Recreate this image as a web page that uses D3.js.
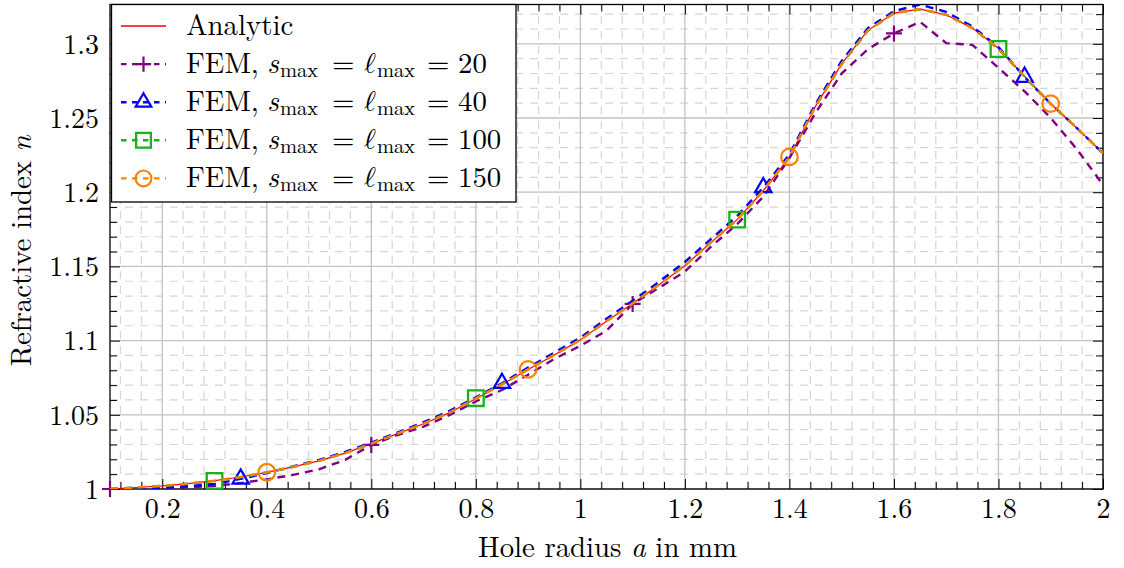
<!DOCTYPE html>
<html>
<head>
<meta charset="utf-8">
<script src="https://cdn.jsdelivr.net/npm/d3@7"></script>
<style>
  html, body { margin: 0; padding: 0; background: #fff; }
</style>
</head>
<body>
<svg id="chart" width="1124" height="568"></svg>
<script>
// Hole radius a (mm)
const radius = [0.10, 0.15, 0.20, 0.25, 0.30, 0.35, 0.40, 0.45, 0.50, 0.55,
                0.60, 0.65, 0.70, 0.75, 0.80, 0.85, 0.90, 0.95, 1.00, 1.05,
                1.10, 1.15, 1.20, 1.25, 1.30, 1.35, 1.40, 1.45, 1.50, 1.55,
                1.60, 1.65, 1.70, 1.75, 1.80, 1.85, 1.90, 1.95, 2.00];

// Refractive index n, analytic solution
const analytic = [1.0000, 1.0010, 1.0021, 1.0036, 1.0056, 1.0081, 1.0112, 1.0149, 1.0190, 1.0242,
                  1.0306, 1.0373, 1.0440, 1.0515, 1.0608, 1.0705, 1.0805, 1.0903, 1.1005, 1.1130,
                  1.1250, 1.1375, 1.1505, 1.1662, 1.1815, 1.2010, 1.2235, 1.2580, 1.2865, 1.3090,
                  1.3207, 1.3234, 1.3196, 1.3106, 1.2970, 1.2780, 1.2596, 1.2432, 1.2263];

// FEM results for increasing s_max = l_max
const fem20 = [1.0000, 1.0002, 1.0007, 1.0012, 1.0021, 1.0040, 1.0065, 1.0095, 1.0133, 1.0196,
               1.0297, 1.0364, 1.0420, 1.0499, 1.0590, 1.0667, 1.0770, 1.0876, 1.0965, 1.1067,
               1.1247, 1.1355, 1.1465, 1.1633, 1.1785, 1.1970, 1.2230, 1.2535, 1.2800, 1.2963,
               1.3070, 1.3148, 1.3005, 1.2993, 1.2838, 1.2680, 1.2500, 1.2290, 1.2050];

const fem40 = [1.0000, 1.0001, 1.0007, 1.0020, 1.0034, 1.0068, 1.0108, 1.0152, 1.0196, 1.0250,
               1.0313, 1.0380, 1.0450, 1.0527, 1.0618, 1.0713, 1.0818, 1.0918, 1.1020, 1.1148,
               1.1268, 1.1395, 1.1530, 1.1685, 1.1840, 1.2032, 1.2255, 1.2595, 1.2885, 1.3105,
               1.3220, 1.3265, 1.3215, 1.3117, 1.2978, 1.2776, 1.2596, 1.2432, 1.2262];

const fem100 = [1.0000, 1.0010, 1.0021, 1.0036, 1.0055, 1.0080, 1.0111, 1.0148, 1.0190, 1.0242,
                1.0306, 1.0373, 1.0441, 1.0516, 1.0612, 1.0706, 1.0806, 1.0904, 1.1006, 1.1131,
                1.1251, 1.1376, 1.1506, 1.1663, 1.1815, 1.2010, 1.2236, 1.2578, 1.2862, 1.3088,
                1.3206, 1.3233, 1.3196, 1.3107, 1.2965, 1.2779, 1.2596, 1.2432, 1.2263];

const fem150 = [1.0000, 1.0010, 1.0021, 1.0036, 1.0056, 1.0081, 1.0113, 1.0149, 1.0190, 1.0242,
                1.0306, 1.0373, 1.0440, 1.0515, 1.0609, 1.0705, 1.0806, 1.0903, 1.1005, 1.1130,
                1.1250, 1.1375, 1.1505, 1.1662, 1.1815, 1.2010, 1.2238, 1.2580, 1.2865, 1.3090,
                1.3207, 1.3234, 1.3196, 1.3106, 1.2970, 1.2780, 1.2597, 1.2432, 1.2263];

// Marker indices (every 10th point, each series with its own phase)
const marks20 = [0, 10, 20, 30];
const marks40 = [5, 15, 25, 35];
const marks100 = [4, 14, 24, 34];
const marks150 = [6, 16, 26, 36];

const xTickValues = [0.2, 0.4, 0.6, 0.8, 1.0, 1.2, 1.4, 1.6, 1.8, 2.0];
const xTickLabels = ["0.2", "0.4", "0.6", "0.8", "1", "1.2", "1.4", "1.6", "1.8", "2"];
const yTickValues = [1.0, 1.05, 1.1, 1.15, 1.2, 1.25, 1.3];
const yTickLabels = ["1", "1.05", "1.1", "1.15", "1.2", "1.25", "1.3"];

const legendNumbers = ["20", "40", "100", "150"];

// ---------------------------------------------------------------
const FONT = "'Latin Modern Roman', 'Liberation Serif', serif";
const MATHFONT = "'Latin Modern Roman', 'Latin Modern Math', 'DejaVu Serif', serif";
const FS = 28.8;      // labels and legend
const TFS = 28;       // tick labels

const svg = d3.select("#chart");
const W = 1124, H = 568;
const margin = { left: 110, right: 21, top: 4.5, bottom: 79 };
const x0 = margin.left, x1 = W - margin.right;
const y0 = H - margin.bottom, y1 = margin.top;

const allValues = [].concat(analytic, fem20, fem40, fem100, fem150);
const x = d3.scaleLinear().domain([0.1, 2.0]).range([x0, x1]);
const y = d3.scaleLinear().domain([1.0, d3.max(allValues)]).range([y0, y1]);

// clip for the curves
svg.append("defs").append("clipPath").attr("id", "plotClip")
  .append("rect").attr("x", x0).attr("y", y1).attr("width", x1 - x0).attr("height", y0 - y1);

// ---- grid ----
const xMinor = d3.range(0.12, 2.0, 0.04).filter(v => Math.abs(v / 0.2 - Math.round(v / 0.2)) > 1e-6);
const yMinor = d3.range(1.01, 1.3265, 0.01).filter(v => Math.abs((v - 1) / 0.05 - Math.round((v - 1) / 0.05)) > 1e-6);

const grid = svg.append("g");
grid.selectAll("line.vmin").data(xMinor).join("line")
  .attr("x1", d => x(d)).attr("x2", d => x(d)).attr("y1", y0).attr("y2", y1)
  .attr("stroke", "#d6d6d6").attr("stroke-width", 1.2).attr("stroke-dasharray", "8,7");
grid.selectAll("line.hmin").data(yMinor).join("line")
  .attr("x1", x0).attr("x2", x1).attr("y1", d => y(d)).attr("y2", d => y(d))
  .attr("stroke", "#d6d6d6").attr("stroke-width", 1.2).attr("stroke-dasharray", "8,7");
grid.selectAll("line.vmaj").data(xTickValues).join("line")
  .attr("x1", d => x(d)).attr("x2", d => x(d)).attr("y1", y0).attr("y2", y1)
  .attr("stroke", "#c2c2c2").attr("stroke-width", 1.3);
grid.selectAll("line.hmaj").data(yTickValues).join("line")
  .attr("x1", x0).attr("x2", x1).attr("y1", d => y(d)).attr("y2", d => y(d))
  .attr("stroke", "#c2c2c2").attr("stroke-width", 1.3);

// ---- axes: ticks point inward on all four sides ----
function styleAxis(g) {
  g.attr("font-family", null).attr("font-size", null);
  g.select(".domain").remove();
  g.selectAll("line").attr("stroke", "#000").attr("stroke-width", 1);
}
const majorLen = 10, minorLen = 7;

const axB = svg.append("g").attr("transform", `translate(0,${y0})`)
  .call(d3.axisBottom(x).tickValues(xTickValues).tickFormat((d, i) => xTickLabels[i]).tickSize(-majorLen))
  .call(styleAxis);
axB.selectAll("text").attr("y", 29).attr("dy", null)
  .style("font-size", TFS + "px").style("font-family", FONT).style("fill", "#000");
svg.append("g").attr("transform", `translate(0,${y0})`)
  .call(d3.axisBottom(x).tickValues(xMinor).tickFormat("").tickSize(-minorLen)).call(styleAxis);
svg.append("g").attr("transform", `translate(0,${y1})`)
  .call(d3.axisTop(x).tickValues(xTickValues).tickFormat("").tickSize(-majorLen)).call(styleAxis);
svg.append("g").attr("transform", `translate(0,${y1})`)
  .call(d3.axisTop(x).tickValues(xMinor).tickFormat("").tickSize(-minorLen)).call(styleAxis);

const axL = svg.append("g").attr("transform", `translate(${x0},0)`)
  .call(d3.axisLeft(y).tickValues(yTickValues).tickFormat((d, i) => yTickLabels[i]).tickSize(-majorLen).tickPadding(11))
  .call(styleAxis);
axL.selectAll("text").attr("dy", "0.33em")
  .style("font-size", TFS + "px").style("font-family", FONT).style("fill", "#000");
svg.append("g").attr("transform", `translate(${x0},0)`)
  .call(d3.axisLeft(y).tickValues(yMinor).tickFormat("").tickSize(-minorLen)).call(styleAxis);
svg.append("g").attr("transform", `translate(${x1},0)`)
  .call(d3.axisRight(y).tickValues(yTickValues).tickFormat("").tickSize(-majorLen)).call(styleAxis);
svg.append("g").attr("transform", `translate(${x1},0)`)
  .call(d3.axisRight(y).tickValues(yMinor).tickFormat("").tickSize(-minorLen)).call(styleAxis);

// frame
svg.append("rect").attr("x", x0).attr("y", y1).attr("width", x1 - x0).attr("height", y0 - y1)
  .attr("fill", "none").attr("stroke", "#000").attr("stroke-width", 1.3);

// ---- series ----
const markerPath = {
  plus: r => `M${-r},0H${r}M0,${-r}V${r}`,
  triangle: r => `M0,${-r}L${0.866 * r},${0.5 * r}L${-0.866 * r},${0.5 * r}Z`,
  square: r => `M${-r},${-r}H${r}V${r}H${-r}Z`,
  circle: r => `M${r},0A${r},${r} 0 1,1 ${-r},0A${r},${r} 0 1,1 ${r},0Z`
};

const series = [
  { name: "analytic", values: analytic, color: "#ff0000", width: 1.2, dash: null, marker: null, marks: [] },
  { name: "fem20", values: fem20, color: "#800080", width: 2.4, dash: "8,6", marker: "plus", size: 8, mw: 2.2, marks: marks20 },
  { name: "fem40", values: fem40, color: "#0000ff", width: 2.4, dash: "8,6", marker: "triangle", size: 9.5, mw: 2.2, marks: marks40 },
  { name: "fem100", values: fem100, color: "#17b217", width: 2.4, dash: "8,6", marker: "square", size: 7.8, mw: 2.3, marks: marks100 },
  { name: "fem150", values: fem150, color: "#ff8000", width: 2.4, dash: "8,6", marker: "circle", size: 8.3, mw: 2.2, marks: marks150 }
];

const line = d3.line().x(d => x(d[0])).y(d => y(d[1]));

series.forEach(s => {
  const pts = radius.map((r, i) => [r, s.values[i]]);
  svg.append("path").datum(pts)
    .attr("clip-path", "url(#plotClip)")
    .attr("d", line)
    .attr("fill", "none")
    .attr("stroke", s.color)
    .attr("stroke-width", s.width)
    .attr("stroke-dasharray", s.dash)
    .attr("stroke-linejoin", "round");
  if (s.marker) {
    svg.append("g").selectAll("path").data(s.marks.map(i => pts[i])).join("path")
      .attr("transform", d => `translate(${x(d[0])},${y(d[1])})`)
      .attr("d", markerPath[s.marker](s.size))
      .attr("fill", "none").attr("stroke", s.color).attr("stroke-width", s.mw);
  }
});

// ---- axis labels ----
const xl = svg.append("text").attr("x", (x0 + x1) / 2 + 1).attr("y", 557).attr("text-anchor", "middle")
  .style("font-size", FS + "px").style("font-family", FONT);
xl.append("tspan").text("Hole radius ");
xl.append("tspan").style("font-style", "italic").text("a");
xl.append("tspan").text(" in mm");

const yl = svg.append("text").attr("transform", `translate(31,${(y0 + y1) / 2 + 4}) rotate(-90)`)
  .attr("text-anchor", "middle").style("font-size", FS + "px").style("font-family", FONT);
yl.append("tspan").text("Refractive index ");
yl.append("tspan").style("font-style", "italic").text("n");

// ---- legend ----
const lg = svg.append("g");
lg.append("rect").attr("x", 111.5).attr("y", y1).attr("width", 404.5).attr("height", 197.5)
  .attr("fill", "#fff").attr("stroke", "#000").attr("stroke-width", 1.3);

const rowY = i => 26 + i * 38.1;
series.forEach((s, i) => {
  const cy = rowY(i);
  lg.append("line").attr("x1", 121).attr("x2", 166).attr("y1", cy).attr("y2", cy)
    .attr("stroke", s.color).attr("stroke-width", s.marker ? 2.4 : 1.5)
    .attr("stroke-dasharray", s.marker ? "5.5,5.5" : null);
  if (s.marker) {
    lg.append("path").attr("transform", `translate(143.5,${cy})`)
      .attr("d", markerPath[s.marker](s.size * 0.95))
      .attr("fill", "none").attr("stroke", s.color).attr("stroke-width", s.mw);
  }
  const t = lg.append("text").attr("y", cy + 9).style("font-size", FS + "px").style("font-family", FONT);
  if (!s.marker) {
    t.append("tspan").attr("x", 186).text("Analytic");
  } else {
    t.append("tspan").attr("x", 186).text("FEM,");
    t.append("tspan").attr("x", 267).style("font-style", "italic").text("s");
    t.append("tspan").attr("x", 280).attr("dy", 4).style("font-size", "20.5px").text("max");
    t.append("tspan").attr("x", 332).attr("dy", -4).text("=");
    t.append("tspan").attr("x", 364).style("font-family", MATHFONT).text("\u2113");
    t.append("tspan").attr("x", 377).attr("dy", 4).style("font-size", "20.5px").text("max");
    t.append("tspan").attr("x", 427).attr("dy", -4).text("=");
    t.append("tspan").attr("x", 458).text(legendNumbers[i - 1]);
  }
});
</script>
</body>
</html>
